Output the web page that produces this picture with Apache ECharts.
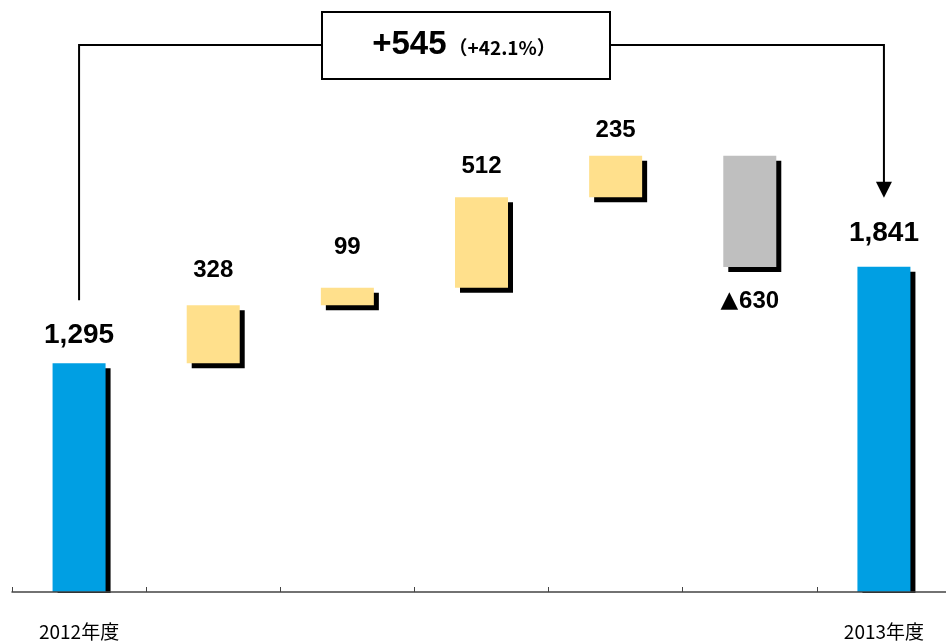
<!DOCTYPE html>
<html>
<head>
<meta charset="utf-8">
<script src="https://cdn.jsdelivr.net/npm/echarts@6/dist/echarts.min.js"></script>
<style>
  html, body { margin: 0; padding: 0; background: #fff; }
  #chart { width: 946px; height: 643px; }
</style>
</head>
<body>
<div id="chart"></div>
<script>
// Year-over-year bridge: start total, five gains, one decline, end total
const categories = ['2012年度', '', '', '', '', '', '2013年度'];
const kinds = ['total', 'up', 'up', 'up', 'up', 'down', 'total'];
const amounts = [1295, 328, 99, 512, 235, 630, 1841];
const diffText = '+545';
const diffPct = '（+42.1%）';

const COLORS = { total: '#009FE3', up: '#FFE08C', down: '#BFBFBF' };
const NUM_FONT = "'Liberation Sans', Arial, sans-serif";
const CJK_FONT = "'Noto Sans CJK JP', sans-serif";
// gap between each bar and its value label
const LABEL_GAP = [14, 23, 28, 19, 13, 22, 19];

// Invisible offsets so each step floats at the running total
const bases = [];
let running = 0;
amounts.forEach((v, i) => {
  if (kinds[i] === 'total') { bases.push(0); running = v; }
  else if (kinds[i] === 'up') { bases.push(running); running += v; }
  else { running -= v; bases.push(running); }
});

const fmt = (v, i) => {
  if (kinds[i] === 'total') return v.toLocaleString('en-US');
  if (kinds[i] === 'down') return '{tri|▲}' + v;
  return String(v);
};

const chart = echarts.init(document.getElementById('chart'));

chart.setOption({
  animation: false,
  backgroundColor: '#fff',
  grid: { left: 12, width: 939, top: 0, bottom: 51, outerBoundsMode: 'none', containLabel: false },
  xAxis: {
    type: 'category',
    data: categories,
    boundaryGap: true,
    z: 10,
    axisLine: { show: true, lineStyle: { color: '#444', width: 1.5 } },
    axisTick: { show: true, inside: true, length: 5, interval: 0, lineStyle: { color: '#444', width: 1 } },
    axisLabel: { color: '#000', fontFamily: CJK_FONT, fontSize: 19, margin: 30, interval: 0, hideOverlap: false }
  },
  yAxis: { type: 'value', min: 0, max: 3350, show: false },
  series: [
    {
      type: 'bar',
      stack: 'bridge',
      barWidth: 53,
      silent: true,
      itemStyle: { color: 'transparent' },
      data: bases
    },
    {
      type: 'bar',
      stack: 'bridge',
      barWidth: 53,
      clip: true,
      data: amounts.map((v, i) => ({
        value: v,
        itemStyle: {
          color: COLORS[kinds[i]],
          shadowColor: '#000',
          shadowBlur: 0,
          shadowOffsetX: 5,
          shadowOffsetY: 5
        },
        label: {
          show: true,
          position: kinds[i] === 'down' ? 'bottom' : 'top',
          distance: LABEL_GAP[i],
          formatter: () => fmt(v, i),
          color: '#000',
          fontFamily: NUM_FONT,
          fontWeight: 'bold',
          fontSize: kinds[i] === 'total' ? 28 : 24,
          rich: {
            tri: { fontFamily: "'DejaVu Sans', sans-serif", fontSize: 23, color: '#000', padding: [0, 1, 0, 0] }
          }
        }
      }))
    }
  ]
});

// Bracket from the starting total to the ending total, with the change in a box
const toPx = (idx, val) => chart.convertToPixel({ xAxisIndex: 0, yAxisIndex: 0 }, [idx, val]);
const last = amounts.length - 1;
const pStart = toPx(0, amounts[0]);
const pEnd = toPx(last, amounts[last]);
const axisY = toPx(0, 0)[1];
const lineY = 45;
const box = { x: 322, y: 12, w: 288, h: 67 };
const tipY = pEnd[1] - 69;

chart.setOption({
  graphic: [
    {
      // keep the bar drop shadows from spilling under the baseline
      type: 'rect',
      z: 100,
      shape: { x: 0, y: axisY + 1, width: 946, height: 6 },
      style: { fill: '#fff' }
    },
    {
      type: 'polyline',
      shape: { points: [[pStart[0], pStart[1] - 63], [pStart[0], lineY], [box.x, lineY]] },
      style: { stroke: '#000', lineWidth: 2, fill: null }
    },
    {
      type: 'polyline',
      shape: { points: [[box.x + box.w, lineY], [pEnd[0], lineY], [pEnd[0], tipY - 14]] },
      style: { stroke: '#000', lineWidth: 2, fill: null }
    },
    {
      type: 'polygon',
      shape: { points: [[pEnd[0] - 8, tipY - 16], [pEnd[0] + 8, tipY - 16], [pEnd[0], tipY]] },
      style: { fill: '#000' }
    },
    {
      type: 'rect',
      shape: { x: box.x, y: box.y, width: box.w, height: box.h },
      style: { fill: '#fff', stroke: '#000', lineWidth: 2 }
    },
    {
      type: 'text',
      x: box.x + box.w / 2 - 2,
      y: box.y + box.h / 2 - 1,
      style: {
        text: '{a|' + diffText + '}{b|' + diffPct + '}',
        align: 'center',
        verticalAlign: 'middle',
        rich: {
          a: { fontFamily: NUM_FONT, fontWeight: 'bold', fontSize: 33, fill: '#000', verticalAlign: 'bottom' },
          b: { fontFamily: CJK_FONT, fontWeight: 'bold', fontSize: 19, fill: '#000', padding: [0, 0, 4, 2], verticalAlign: 'bottom' }
        }
      }
    }
  ]
});
</script>
</body>
</html>
